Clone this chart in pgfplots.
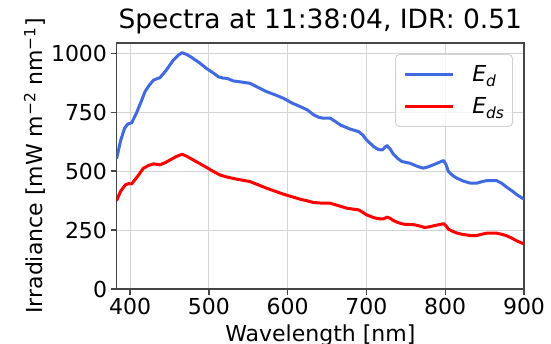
\documentclass[border=0pt]{standalone}
\usepackage{pgfplots}
\pgfplotsset{compat=1.18}
\usepackage{fontspec}
\setmainfont{DejaVu Sans}
\definecolor{royalblue}{RGB}{65,105,225}
\definecolor{mplred}{RGB}{255,0,0}
\definecolor{gridgray}{RGB}{212,212,212}
\definecolor{spine}{RGB}{70,70,70}
\definecolor{legframe}{RGB}{210,210,210}
\newcommand{\tk}{\fontsize{22}{26}\selectfont}
\newcommand{\ttl}{\fontsize{26.5}{30}\selectfont}
\begin{document}
\tk
\begin{tikzpicture}
\begin{axis}[
  scale only axis, width=407.3pt, height=246pt,
  xmin=383, xmax=900, ymin=0, ymax=1044,
  xtick={400,500,600,700,800,900}, ytick={0,250,500,750,1000},
  grid=major, major grid style={draw=gridgray, line width=1.1pt},
  axis line style={draw=spine, line width=1.4pt},
  tick align=outside, major tick length=6pt,
  tick style={draw=spine, line width=1.4pt},
  tick pos=left,
  /pgf/number format/assume math mode=true,
  /pgf/number format/1000 sep={},
  ticklabel style={font=\tk},
  yticklabel style={inner xsep=3.5pt},
  xticklabel style={inner ysep=3pt},
  every axis x label/.style={at={(axis description cs:0.5,0)}, yshift=-53pt, anchor=base, font=\tk},
  every axis y label/.style={at={(axis description cs:-0.181,0.5)}, rotate=90, anchor=base, font=\tk},
  title style={at={(axis description cs:0.5,1)}, yshift=8pt, anchor=base, font=\ttl},
  title={Spectra at 11:38:04, IDR: 0.51},
  xlabel={Wavelength [nm]},
  ylabel={Irradiance [mW m\textsuperscript{−2} nm\textsuperscript{−1}]},
  legend style={at={(axis description cs:1,1)}, anchor=north east, xshift=-11pt, yshift=-11pt,
    draw=legframe, line width=1pt, rounded corners=4pt, fill=white, fill opacity=0.8, text opacity=1,
    font=\tk, inner xsep=8pt, inner ysep=3.5pt, row sep=0pt, column sep=18pt,
    nodes={inner xsep=0pt, inner ysep=0pt, text height=23.5pt, text depth=9pt}},
  legend cell align=left,
  legend image code/.code={\draw[#1, line width=2.8pt, line cap=butt] (0pt,0pt) -- (48pt,0pt);},
  every axis plot/.append style={line width=3pt, line join=round, line cap=round},
]
\addplot[color=royalblue] coordinates {
(383,555) (388,630) (393,682) (397,700) (402,705) (408,746) (414,795) (419,838) (425,868) (430,887)
(438,897) (446,929) (455,972) (461,992) (466,1003) (472,995) (478,983) (488,960) (497,936) (505,918)
(512,901) (518,895) (523,894) (531,883) (542,878) (552,873) (562,856) (573,838) (584,824) (595,809)
(605,790) (616,774) (625,760) (633,739) (640,728) (645,725) (654,725) (660,712) (667,696) (679,679)
(690,668) (695,655) (700,633) (709,605) (715,592) (720,590) (726,609) (730,595) (734,573) (740,553)
(745,541) (755,534) (765,520) (772,513) (778,518) (785,527) (792,537) (798,545) (801,528) (804,499)
(810,480) (815,470) (823,458) (832,449) (840,449) (847,456) (853,460) (865,460) (872,448) (878,432)
(885,416) (891,400) (900,381)
};
\addlegendentry{\textit{E}\textsubscript{\textit{d}}}
\addplot[color=mplred] coordinates {
(383,376) (388,415) (394,442) (398,447) (402,446) (410,480) (417,513) (424,525) (430,531) (438,527)
(445,537) (451,548) (458,561) (466,572) (472,563) (480,548) (488,533) (497,516) (505,500) (514,484)
(522,476) (531,469) (542,462) (552,456) (562,443) (573,428) (584,415) (595,402) (605,392) (616,381)
(625,374) (633,367) (645,364) (654,364) (665,353) (675,343) (683,339) (690,336) (695,326) (700,315)
(710,302) (718,297) (722,298) (726,305) (730,300) (734,291) (740,282) (747,275) (760,273) (768,267)
(774,261) (780,264) (785,268) (792,273) (798,277) (801,268) (804,254) (810,244) (815,237) (823,231)
(832,227) (840,227) (847,233) (853,237) (865,237) (872,232) (878,226) (885,215) (891,204) (900,191)
};
\addlegendentry{\textit{E}\textsubscript{\textit{ds}}}
\end{axis}
\pgfresetboundingbox
\path[use as bounding box] (-116.7pt,-55pt) rectangle (434.3pt,289pt);
\end{tikzpicture}
\end{document}
